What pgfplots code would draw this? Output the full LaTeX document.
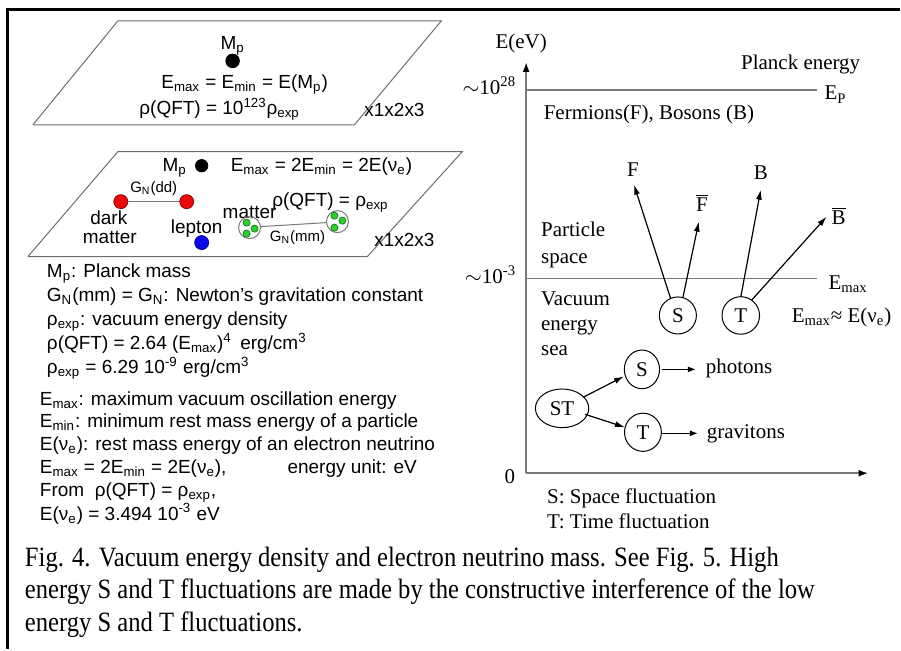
\documentclass[border=0pt]{standalone}
\usepackage{fontspec}
\setmainfont{Liberation Serif}
\newfontfamily\arial{Liberation Sans}
\usepackage{graphicx}
\usepackage{pgfplots}
\pgfplotsset{compat=1.18}
\usetikzlibrary{arrows.meta,shapes.geometric}
\newcommand\sub[1]{\textsubscript{#1}}
\newcommand\sps[1]{\textsuperscript{#1}}
\newcommand\fA{\arial\fontsize{9.5bp}{11bp}\selectfont}
\newcommand\fAs{\arial\fontsize{7.5bp}{9bp}\selectfont}
\newcommand\fB{\fontsize{10.5bp}{12bp}\selectfont}
\newcommand\fC{\fontsize{14bp}{16bp}\selectfont}
\definecolor{lgray}{RGB}{120,120,120}
\definecolor{pgray}{RGB}{110,110,110}
\definecolor{gdot}{RGB}{40,210,40}
\definecolor{rdot}{RGB}{235,10,10}
\definecolor{bdot}{RGB}{10,10,230}
\begin{document}
\begin{tikzpicture}
\begin{axis}[width=450.5bp, height=325bp, scale only axis,
  xmin=0, xmax=901, ymin=0, ymax=650, y dir=reverse,
  hide axis, clip=false,
  every node/.style={inner sep=0pt}]
\path (0,0) rectangle (901,650);
% frame
\addplot[black, line width=1.5bp] coordinates {(8,650)(8,10)(901,10)};
% ---- top plane
\addplot[pgray, line width=0.5bp] coordinates {(33,125)(118,21)(442,21)(355,125)(33,125)};
\node[anchor=base] at (233,50) {\fA M\sub{p}};
\addplot[only marks, mark=*, mark size=3.4bp, black] coordinates {(233,61)};
\node[anchor=base] at (245,89) {\fA E\sub{max} = E\sub{min} = E(M\sub{p})};
\node[anchor=base] at (220,115) {\fA ρ(QFT) = 10\sps{123}ρ\sub{exp}};
\node[anchor=base west] at (358,117) {\fA x1x2x3};
% ---- second plane
\addplot[pgray, line width=0.5bp] coordinates {(28,257)(118,152)(463,152)(368,257)(28,257)};
\node[anchor=base] at (175,172) {\fA M\sub{p}};
\addplot[only marks, mark=*, mark size=3.1bp, black] coordinates {(202,166)};
\node[anchor=base] at (322,172) {\fA E\sub{max} = 2E\sub{min} = 2E(ν\sub{e})};
\node[anchor=base] at (154,193) {\fAs G\sub{N}(dd)};
\addplot[lgray, line width=0.5bp] coordinates {(121,202)(187,202)};
\addplot[only marks, mark=*, mark size=3.5bp, rdot, mark options={draw=rdot!60!black}] coordinates {(121,202)(187,202)};
\node[anchor=base] at (331,207) {\fA ρ(QFT) = ρ\sub{exp}};
\node[anchor=base] at (109,225) {\fA dark};
\node[anchor=base] at (110,244) {\fA matter};
\node[anchor=base] at (197,234) {\fA lepton};
\addplot[only marks, mark=*, mark size=3.5bp, bdot, mark options={draw=bdot!60!black}] coordinates {(202,243)};
\node[anchor=base] at (250,219) {\fA matter};
\addplot[lgray, line width=0.5bp] coordinates {(261,227)(327,223)};
\addplot[only marks, mark=o, mark size=5.5bp, lgray, mark options={line width=0.5bp}] coordinates {(250,228)(338,222)};
\addplot[only marks, mark=*, mark size=1.8bp, gdot, mark options={draw=gdot!50!black, line width=0.3bp}] coordinates {(247,223)(255,229)(247,234)(335,216)(343,221)(335,228)};
\node[anchor=base] at (298,242) {\fAs G\sub{N}(mm)};
\node[anchor=base west] at (368,247) {\fA x1x2x3};
% ---- text block
\node[anchor=base west] at (40,278) {\fA M\sub{p}: Planck mass};
\node[anchor=base west] at (40,302) {\fA G\sub{N}(mm) = G\sub{N}: Newton’s gravitation constant};
\node[anchor=base west] at (40,326) {\fA ρ\sub{exp}: vacuum energy density};
\node[anchor=base west] at (40,350) {\fA ρ(QFT) = 2.64 (E\sub{max})\sps{4}\, erg/cm\sps{3}};
\node[anchor=base west] at (40,374) {\fA ρ\sub{exp} = 6.29 10\sps{-9} erg/cm\sps{3}};
\node[anchor=base west] at (33,406) {\fA E\sub{max}: maximum vacuum oscillation energy};
\node[anchor=base west] at (33,428) {\fA E\sub{min}: minimum rest mass energy of a particle};
\node[anchor=base west] at (33,451) {\fA E(ν\sub{e}): rest mass energy of an electron neutrino};
\node[anchor=base west] at (33,474) {\fA E\sub{max} = 2E\sub{min} = 2E(ν\sub{e}),};
\node[anchor=base west] at (281,474) {\fA energy unit: eV};
\node[anchor=base west] at (33,497) {\fA From\ \ ρ(QFT) = ρ\sub{exp},};
\node[anchor=base west] at (33,521) {\fA E(ν\sub{e}) = 3.494 10\sps{-3} eV};
% ---- right diagram
\addplot[lgray, line width=1bp, -{Latex[black,length=5bp,width=3.5bp]}] coordinates {(527,474)(527,62)};
\addplot[lgray, line width=1bp, -{Latex[black,length=5bp,width=3.5bp]}] coordinates {(527,474)(870,474)};
\addplot[lgray, line width=0.9bp] coordinates {(527,90)(818,90)};
\addplot[lgray, line width=0.9bp] coordinates {(527,279)(818,279)};
\node[anchor=base] at (522,49) {\fB E(eV)};
\node[anchor=base east] at (524,95) {\fB $\sim$10\sps{28}};
\node[anchor=base] at (802,70) {\fB Planck energy};
\node[anchor=base west] at (819,100) {\fB E\sub{P}};
\node[anchor=base] at (650,120) {\fB Fermions(F), Bosons (B)};
\node[anchor=base east] at (524,284) {\fB $\sim$10\sps{-3}};
\node[anchor=base west] at (823,290) {\fB E\sub{max}};
\node[anchor=base west] at (535,237) {\fB Particle};
\node[anchor=base west] at (535,264) {\fB space};
\node[anchor=base west] at (535,306) {\fB Vacuum};
\node[anchor=base west] at (535,331) {\fB energy};
\node[anchor=base west] at (535,356) {\fB sea};
\addplot[black, line width=0.6bp, -{Latex[length=5bp,width=3bp]}] coordinates {(673,303)(635,185)};
\addplot[black, line width=0.6bp, -{Latex[length=5bp,width=3bp]}] coordinates {(683,303)(700,222)};
\addplot[black, line width=0.6bp, -{Latex[length=5bp,width=3bp]}] coordinates {(741,303)(762,190)};
\addplot[black, line width=0.6bp, -{Latex[length=5bp,width=3bp]}] coordinates {(749,305)(828,217)};
\node[draw, circle, line width=0.5bp, minimum size=13bp, fill=white] at (679,316) {\fB S};
\node[draw, circle, line width=0.5bp, minimum size=13bp, fill=white] at (742,316) {\fB T};
\node[anchor=base] at (634,177) {\fB F};
\node[anchor=base] at (703,212) {\fB $\overline{\mbox{F}}$};
\node[anchor=base] at (762,180) {\fB B};
\node[anchor=base] at (840,225) {\fB $\overline{\mbox{B}}$};
\node[anchor=base] at (843,323) {\fB E\sub{max}≈ E(ν\sub{e})};
\node[draw, ellipse, line width=0.5bp, minimum width=22bp, minimum height=19bp] at (563,409) {\fB ST};
\node[draw, ellipse, line width=0.5bp, minimum width=16bp, minimum height=18bp] at (643,370) {\fB S};
\node[draw, ellipse, line width=0.5bp, minimum width=16bp, minimum height=18bp] at (644,433) {\fB T};
\addplot[black, line width=0.6bp, -{Latex[length=5bp,width=3bp]}] coordinates {(584,398)(625,377)};
\addplot[black, line width=0.6bp, -{Latex[length=5bp,width=3bp]}] coordinates {(586,415)(626,428)};
\addplot[black, line width=0.6bp, -{Latex[length=4bp,width=3bp]}] coordinates {(663,370)(697,370)};
\addplot[black, line width=0.6bp, -{Latex[length=4bp,width=3bp]}] coordinates {(662,434)(699,434)};
\node[anchor=base west] at (700,374) {\fB photons};
\node[anchor=base west] at (701,439) {\fB gravitons};
\node[anchor=base east] at (523,484) {\fB 0};
\node[anchor=base west] at (541,504) {\fB S: Space fluctuation};
\node[anchor=base west] at (541,529) {\fB T: Time fluctuation};
% ---- caption
\node[anchor=base west] at (18,567) {\fC\scalebox{0.88}[1]{Fig. 4. Vacuum energy density and electron neutrino mass. See Fig. 5. High}};
\node[anchor=base west] at (18,600) {\fC\scalebox{0.88}[1]{energy S and T fluctuations are made by the constructive interference of the low}};
\node[anchor=base west] at (18,633) {\fC\scalebox{0.88}[1]{energy S and T fluctuations.}};
\end{axis}
\end{tikzpicture}
\end{document}
